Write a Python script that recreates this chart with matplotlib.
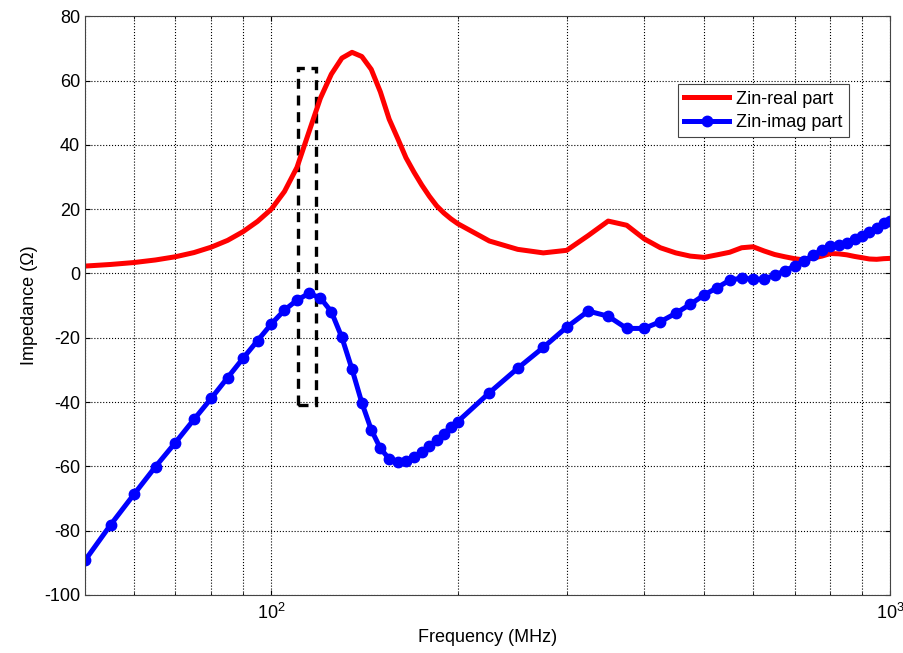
import matplotlib.pyplot as plt
from matplotlib.patches import Rectangle

plt.rcParams['font.family'] = ['Liberation Sans', 'DejaVu Sans']
plt.rcParams['mathtext.fontset'] = 'custom'
plt.rcParams['mathtext.rm'] = 'Liberation Sans'
plt.rcParams['axes.unicode_minus'] = False

# frekvenciak (MHz)
freq = [50, 55, 60, 65, 70, 75, 80, 85, 90, 95, 100, 105, 110, 115, 120, 125,
        130, 135, 140, 145, 150, 155, 160, 165, 170, 175, 180, 185, 190, 195,
        200, 225, 250, 275, 300, 325, 350, 375, 400, 425, 450, 475, 500, 525,
        550, 575, 600, 625, 650, 675, 700, 725, 750, 775, 800, 825, 850, 875,
        900, 925, 950, 975, 1000]

zin_real = [2.3, 2.8, 3.4, 4.2, 5.2, 6.5, 8.2, 10.3, 13.0, 16.2, 20.0, 25.5,
            33.0, 44.0, 54.5, 62.0, 67.0, 68.8, 67.5, 63.5, 56.5, 48.0, 42.0,
            36.0, 31.5, 27.5, 24.0, 21.0, 18.8, 17.0, 15.5, 10.1, 7.5, 6.4,
            7.2, 11.8, 16.3, 15.0, 10.8, 8.0, 6.4, 5.4, 5.0, 5.8, 6.6, 8.0,
            8.3, 7.0, 5.9, 5.2, 4.6, 4.2, 4.8, 5.4, 6.2, 6.1, 5.8, 5.3, 4.9,
            4.5, 4.4, 4.6, 4.7]

zin_imag = [-89.3, -78.2, -68.7, -60.1, -52.6, -45.4, -38.8, -32.4, -26.4,
            -20.9, -15.7, -11.4, -8.3, -6.2, -7.6, -11.9, -19.9, -29.8, -40.2,
            -48.6, -54.4, -57.7, -58.8, -58.5, -57.2, -55.7, -53.6, -51.8,
            -49.9, -47.7, -46.1, -37.1, -29.5, -23.0, -16.7, -11.7, -13.3,
            -17.1, -17.1, -15.0, -12.4, -9.6, -6.7, -4.4, -2.1, -1.4, -1.8,
            -1.8, -0.5, 0.8, 2.3, 3.9, 5.7, 7.3, 8.5, 9.0, 9.5, 10.6, 11.6,
            12.9, 14.2, 15.6, 16.4]

# kiemelo doboz
box_freq = [110.5, 118.0]
box_imp = [-41.0, 64.0]

fig = plt.figure(figsize=(9.04, 6.53), dpi=100)
ax = fig.add_axes([0.094, 0.089, 0.891, 0.886])

ax.semilogx(freq, zin_real, color='red', lw=3.6, label='Zin-real part')
ax.semilogx(freq, zin_imag, color='blue', lw=3.6, marker='o', ms=7.5,
            label='Zin-imag part')

ax.add_patch(Rectangle((box_freq[0], box_imp[0]), box_freq[1] - box_freq[0],
                       box_imp[1] - box_imp[0], fill=False, ec='black',
                       lw=2.4, ls=(0, (3, 2))))

ax.set_xlim(50, 1000)
ax.set_ylim(-100, 80)
ax.set_yticks(range(-100, 81, 20))
ax.grid(True, which='major', ls=':', color='black', lw=0.8)
ax.grid(True, which='minor', axis='x', ls=':', color='black', lw=0.8)
ax.tick_params(which='both', direction='in', top=True, right=True,
               labelsize=13)
ax.tick_params(axis='x', which='major', pad=6)
for s in ax.spines.values():
    s.set_color('#444444')

ax.set_xlabel('Frequency (MHz)', fontsize=13)
ax.set_ylabel('Impedance (Ω)', fontsize=13)

leg = ax.legend(loc='upper right', bbox_to_anchor=(0.96, 0.898),
                fancybox=False, framealpha=1, edgecolor='#444444',
                fontsize=13, handlelength=2.5, borderpad=0.35,
                labelspacing=0.35, handletextpad=0.4)
leg.get_frame().set_linewidth(0.8)

fig.savefig('out.png', dpi=100)
